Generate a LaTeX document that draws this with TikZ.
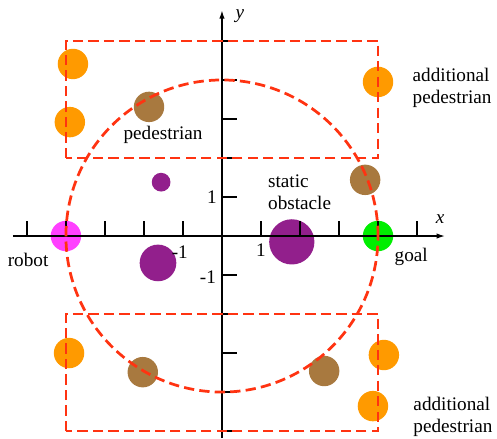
\documentclass[tikz,border=0pt]{standalone}
\usepackage{fontspec}
\setmainfont{Liberation Serif}
\newfontfamily\labelfont{Liberation Serif}
\usepackage{tikz}
\usetikzlibrary{arrows.meta,positioning}
\definecolor{ped}{HTML}{A8793F}
\definecolor{addped}{HTML}{FF9A00}
\definecolor{obst}{HTML}{921F8C}
\definecolor{robotc}{HTML}{FF40FF}
\definecolor{goalc}{HTML}{00EE00}
\definecolor{zone}{HTML}{FF3311}

\begin{document}
\begin{tikzpicture}[font=\labelfont\fontsize{14}{16}\selectfont,
  agent/.style={circle,inner sep=0pt,minimum size=0.78cm},
  zoneline/.style={draw=zone,line width=2pt,dash pattern=on 7.5pt off 3.8pt}]
  \useasboundingbox (-5.69,-5.18) rectangle (7.05,6.05);
  % agents
  \node[agent,fill=robotc] (robot) at (-4,0) {};
  \node[agent,fill=goalc] (goal) at (4,0) {};
  \node[agent,fill=obst,minimum size=1.16cm] (obs1) at (1.79,-0.15) {};
  \node[agent,fill=obst,minimum size=0.94cm] (obs2) at (-1.64,-0.69) {};
  \node[agent,fill=obst,minimum size=0.48cm] (obs3) at (-1.56,1.38) {};
  \node[agent,fill=ped] (p1) at (-1.87,3.31) {};
  \node[agent,fill=ped] (p2) at (3.67,1.44) {};
  \node[agent,fill=ped] (p3) at (-2.03,-3.49) {};
  \node[agent,fill=ped] (p4) at (2.62,-3.46) {};
  \node[agent,fill=addped] (a1) at (-3.82,4.41) {};
  \node[agent,fill=addped] (a2) at (-3.9,2.92) {};
  \node[agent,fill=addped] (a3) at (4.0,3.95) {};
  \node[agent,fill=addped] (a4) at (-3.92,-3.0) {};
  \node[agent,fill=addped] (a5) at (4.15,-3.05) {};
  \node[agent,fill=addped] (a6) at (3.87,-4.36) {};
  % axes
  \coordinate (xl) at (-5.36,0);
  \coordinate (xr) at (5.72,0);
  \coordinate (yb) at (0,-5.18);
  \coordinate (yt) at (0,5.79);
  \draw[line width=1.1pt,-{Latex[length=2.2mm,width=1.4mm]}] (xl)--(xr);
  \draw[line width=1.1pt,-{Latex[length=2.2mm,width=1.4mm]}] (yb)--(yt);
  \foreach \i in {-5,-4,-3,-2,-1,1,2,3,4,5} {
    \draw[line width=0.9pt] (\i,0)--(\i,0.38);
    \draw[line width=0.9pt] (0,\i)--(0.38,\i);
  }
  \node (xlab) at (5.59,0.44) {\textit{x}};
  \node (ylab) at (0.46,5.64) {\textit{y}};
  \node (tx1) at (1,-0.35) {1};
  \node (txm1) at (-1.08,-0.41) {-1};
  \node (ty1) at (-0.26,1.0) {1};
  \node (tym1) at (-0.36,-1.05) {-1};
  % zones
  \draw[zoneline] (0,0) circle (4);
  \draw[zoneline] (-4,2) rectangle (4,5);
  \draw[zoneline] (-4,-5) rectangle (4,-2);
  % labels
  \node (lrobot) at (-4.97,-0.62) {robot};
  \node (lgoal) at (4.85,-0.54) {goal};
  \node (lped) at (-1.51,2.59) {pedestrian};
  \node[align=left] (lobs) at (1.99,1.13) {static\\obstacle};
  \node[align=left] (ladd1) at (5.9,3.79) {additional\\pedestrian};
  \node[align=left] (ladd2) at (5.92,-4.64) {additional\\pedestrian};
\end{tikzpicture}
\end{document}
